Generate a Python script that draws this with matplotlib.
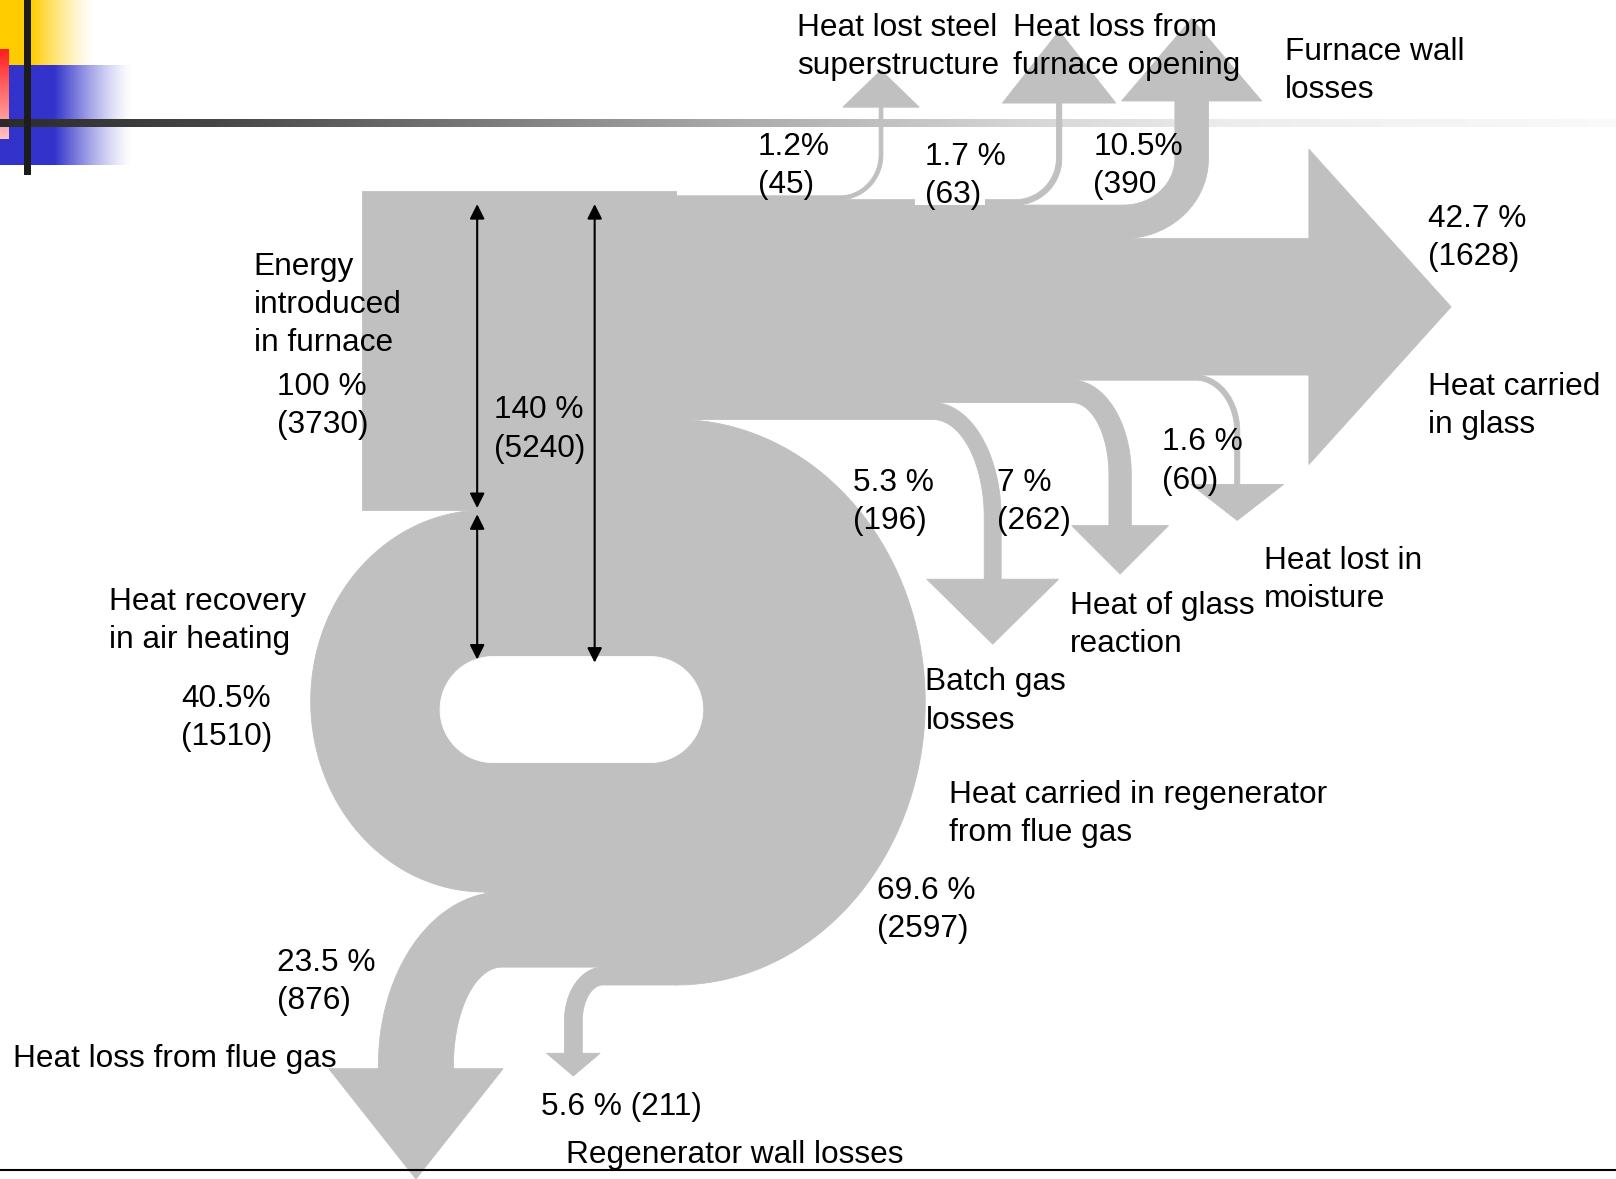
import numpy as np
import matplotlib.pyplot as plt
from matplotlib.patches import Polygon, Rectangle

# ---------------- data (percent of energy introduced, kJ in brackets) -------------
input_pct = 100.0
input_lbl = '100 %\n(3730)'
total_lbl = '140 %\n(5240)'

# losses leaving the furnace upwards
top_names = ['Heat lost steel\nsuperstructure', 'Heat loss from\nfurnace opening', 'Furnace wall\nlosses']
top_pct = [1.2, 1.7, 10.5]
top_lbl = ['1.2%\n(45)', '1.7 %\n(63)', '10.5%\n(390']

# losses leaving the furnace downwards
bot_names = ['Batch gas\nlosses', 'Heat of glass\nreaction', 'Heat lost in\nmoisture']
bot_pct = [5.3, 7.0, 1.6]
bot_lbl = ['5.3 %\n(196)', '7 %\n(262)', '1.6 %\n(60)']

glass_name = 'Heat carried\nin glass'
glass_pct = 42.7
glass_lbl = '42.7 %\n(1628)'

# regenerator loop
regen_name = 'Heat carried in regenerator\nfrom flue gas'
regen_pct = 69.6
regen_lbl = '69.6 %\n(2597)'
recov_name = 'Heat recovery\nin air heating'
recov_pct = 40.5
recov_lbl = '40.5%\n(1510)'
flue_name = 'Heat loss from flue gas'
flue_pct = 23.5
flue_lbl = '23.5 %\n(876)'
wall_name = 'Regenerator wall losses'
wall_pct = 5.6
wall_lbl = '5.6 % (211)'

# ---------------- figure ----------------
GRAY = '#c0c0c0'
FONT = ['Liberation Sans', 'DejaVu Sans']
FS = 22.8
S = 3.1   # px per percent

fig = plt.figure(figsize=(16.16, 11.79), dpi=100)
ax = fig.add_axes([0, 0, 1, 1])
ax.set_xlim(0, 1568)
ax.set_ylim(1144, 0)
ax.axis('off')


def poly(pts, color=GRAY, z=2):
    ax.add_patch(Polygon(pts, closed=True, facecolor=color, edgecolor=color, lw=0.6, zorder=z))


def branch(x_from, x_start, y_in, w, sx, sy, rx, ry, y_head, hh, tip):
    # band running horizontally, then turning up/down into an arrow
    t = np.linspace(0, np.pi / 2, 40)
    cy = y_in + sy * ry
    inner = np.column_stack([x_start + sx * rx * np.sin(t), cy - sy * ry * np.cos(t)])
    outer = np.column_stack([x_start + sx * (rx + w) * np.sin(t), cy - sy * (ry + w) * np.cos(t)])
    xc = x_start + sx * (rx + w / 2)
    head = [(x_start + sx * rx, y_head), (xc - sx * hh, y_head), (xc, tip),
            (xc + sx * hh, y_head), (x_start + sx * (rx + w), y_head)]
    pts = [(x_from, y_in)] + list(inner) + head + list(outer[::-1]) + [(x_from, y_in - sy * w)]
    poly(pts)


def half_ellipse(cx, cy, rx, ry, side):
    t = np.linspace(-np.pi / 2, np.pi / 2, 120)
    return np.column_stack([cx + side * rx * np.cos(t), cy + ry * np.sin(t)])


def txt(x, y0, s, dy=37, **kw):
    for i, ln in enumerate(s.split('\n')):
        ax.text(x, y0 + i * dy, ln, fontsize=FS, family=FONT, va='baseline', ha='left', zorder=8, **kw)


# ---------------- slide decoration ----------------
def hgrad(rgb, x0, x1, solid_to, y0, y1, z):
    n = 200
    xs = np.linspace(x0, x1, n)
    a = np.clip((x1 - xs) / (x1 - solid_to), 0, 1) ** 1.3
    img = np.zeros((1, n, 4))
    img[0, :, :3] = rgb
    img[0, :, 3] = a
    ax.imshow(img, extent=(x0, x1, y1, y0), aspect='auto', zorder=z, interpolation='bilinear')

hgrad((1.0, 0.8, 0.0), 0, 92, 30, 0, 63, 1)
hgrad((0.2, 0.2, 0.8), 0, 128, 53, 63, 160, 1)
red = np.zeros((50, 1, 3))
red[:, 0, 0] = 1.0
red[:, 0, 1] = np.linspace(0.12, 0.76, 50)
red[:, 0, 2] = np.linspace(0.12, 0.76, 50)
ax.imshow(red, extent=(0, 8.7, 135, 48.5), aspect='auto', zorder=1.1, interpolation='bilinear')
xs = np.linspace(0, 1568, 400)
g = np.interp(xs, [0, 200, 700, 1000, 1200, 1568], [0.17, 0.27, 0.66, 0.84, 0.93, 0.98])
bar = np.repeat(g[None, :, None], 3, axis=2)
ax.imshow(bar, extent=(0, 1568, 123.2, 116.4), aspect='auto', zorder=1.2, interpolation='bilinear')
ax.add_patch(Rectangle((23.3, 0), 6.7, 170, facecolor='#1c1c1c', edgecolor='none', zorder=1.3))

# ---------------- furnace block ----------------
X_IN0, X_IN1, Y_IN0 = 351, 656, 185
y_in1 = Y_IN0 + input_pct * S
poly([(X_IN0, Y_IN0), (X_IN1, Y_IN0), (X_IN1, y_in1), (X_IN0, y_in1)])

# right flow, stacked: top losses / glass core / bottom losses
Y_R0 = 190
tw = [p * S for p in top_pct]
bw = [p * S for p in bot_pct]
y_top = Y_R0 + np.concatenate([[0], np.cumsum(tw)])
core_top = y_top[-1]
core_bot = core_top + glass_pct * S
y_bot = core_bot + np.concatenate([[0], np.cumsum(bw[::-1])])   # from core down
right_bot = y_bot[-1]

# glass arrow
mid = (core_top + core_bot) / 2
poly([(X_IN1 - 2, core_top), (1270, core_top), (1270, mid - 153), (1408, mid),
      (1270, mid + 153), (1270, core_bot), (X_IN1 - 2, core_bot)])

# upward branches: x_start, rx, ry, head y, half head, tip
top_geo = [(815, 38, 40, 104, 37, 68), (985, 40, 40, 100, 55, 30), (1090, 50, 45, 98, 68, 18)]
for i, (xs0, rx, ry, yh, hh, tp) in enumerate(top_geo):
    branch(X_IN1 - 2, xs0, y_top[i], tw[i], 1, -1, rx, ry, yh, hh, tp)

# downward branches (outermost first)
bot_geo = [(905, 50, 95, 562, 64, 625), (1040, 36, 70, 510, 47, 557), (1160, 38, 50, 470, 45, 505)]
edges = [right_bot, right_bot - bw[0], right_bot - bw[0] - bw[1]]
for i, (xs0, rx, ry, yh, hh, tp) in enumerate(bot_geo):
    branch(X_IN1 - 2, xs0, edges[i], bw[i], 1, 1, rx, ry, yh, hh, tp)

# white box behind "(63)"
ax.add_patch(Rectangle((888, 165), 68, y_top[2] - 165, facecolor='white', edgecolor='none', zorder=3))

# ---------------- regenerator loop ----------------
H_X0, H_X1, H_Y0, H_Y1 = 427, 682, 637, 740
cxL = 470
left_out = H_X0 - recov_pct * S
l_bot = H_Y1 + recov_pct * S
poly(half_ellipse(cxL, (y_in1 + l_bot) / 2, cxL - left_out, (l_bot - y_in1) / 2, -1))
right_out = H_X1 + regen_pct * S
r_bot = H_Y1 + regen_pct * S
poly(half_ellipse(X_IN1, (right_bot + r_bot) / 2, right_out - X_IN1, (r_bot - right_bot) / 2, 1))
poly([(cxL, right_bot), (X_IN1 + 1, right_bot), (X_IN1 + 1, l_bot), (cxL, l_bot)])

# flue gas and regenerator wall branches leaving the loop bottom
fw = flue_pct * S
ww = wall_pct * S
branch(X_IN1 + 1, 487, l_bot + fw, fw, -1, 1, 47, 95, 1037, 84.5, 1144)
branch(X_IN1 + 1, 585, r_bot, ww, -1, 1, 20, 35, 1022, 26, 1044)

# hole of the loop
rh = (H_Y1 - H_Y0) / 2
cyh = (H_Y0 + H_Y1) / 2
a1 = np.linspace(np.pi / 2, 3 * np.pi / 2, 60)
a2 = np.linspace(-np.pi / 2, np.pi / 2, 60)
hole = np.vstack([np.column_stack([H_X0 + rh + rh * np.cos(a1), cyh + rh * np.sin(a1)]),
                  np.column_stack([H_X1 - rh + rh * np.cos(a2), cyh + rh * np.sin(a2)])])
poly(hole, color='white', z=3)

# ---------------- dimension arrows ----------------
def dim(x, y0, y1):
    ax.annotate('', xy=(x, y1), xytext=(x, y0),
                arrowprops=dict(arrowstyle='<|-|>', color='black', lw=1.5,
                                mutation_scale=22, shrinkA=0, shrinkB=0), zorder=6)

dim(463, Y_IN0 + 13, y_in1 - 2)
dim(463, y_in1 + 4, H_Y0 + 3)
dim(577, Y_IN0 + 13, H_Y0 + 6)

# bottom rule
ax.plot([0, 1568], [1135, 1135], color='black', lw=1.5, zorder=7)

# ---------------- labels ----------------
txt(773, 35, top_names[0])
txt(983, 35, top_names[1])
txt(1247, 58, top_names[2])
txt(735, 150, top_lbl[0])
txt(898, 160, top_lbl[1])
txt(1061, 150, top_lbl[2])
txt(1386, 220, glass_lbl)
txt(1386, 383, glass_name)
txt(246, 267, 'Energy\nintroduced\nin furnace')
txt(269, 383, input_lbl)
txt(479, 406, total_lbl)
txt(828, 476, bot_lbl[0])
txt(967, 476, bot_lbl[1])
txt(1127, 437, bot_lbl[2])
txt(1226, 552, bot_names[2])
txt(1038, 596, bot_names[1])
txt(898, 670, bot_names[0])
txt(106, 592, recov_name)
txt(176, 686, recov_lbl)
txt(921, 779, regen_name)
txt(851, 872, regen_lbl)
txt(269, 942, flue_lbl)
txt(13, 1035, flue_name)
txt(525, 1082, wall_lbl)
txt(549, 1128, wall_name)

fig.savefig('out.png', dpi=100)
